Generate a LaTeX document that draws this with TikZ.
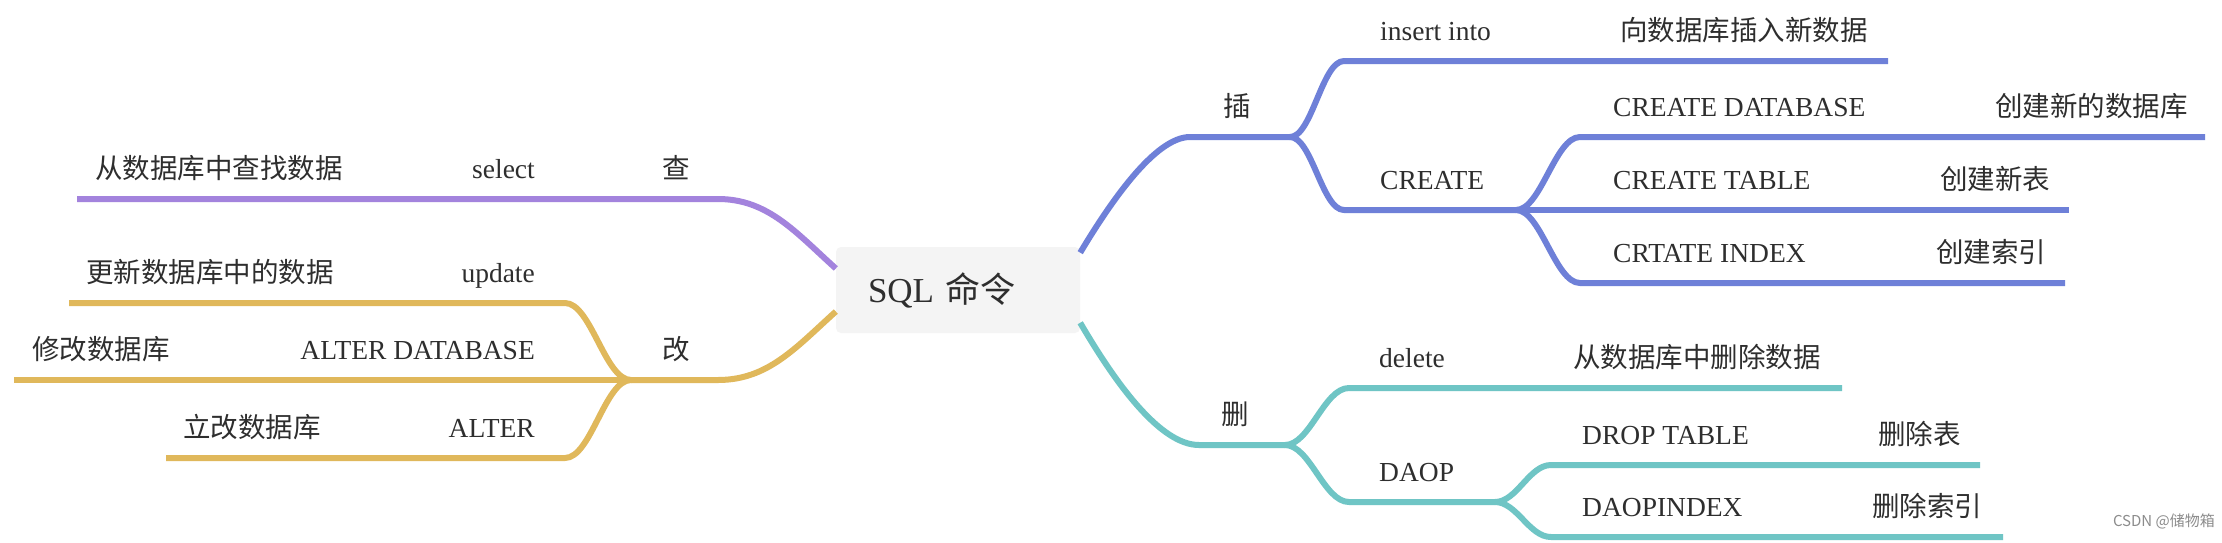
\documentclass[tikz,border=0pt]{standalone}
\usepackage{fontspec}
\usepackage{xcolor}
\setmainfont{Liberation Serif}
\newfontfamily\cjk{Noto Sans CJK SC}
\usetikzlibrary{positioning,calc}
\definecolor{txt}{HTML}{2E2E2E}
\definecolor{boxgray}{HTML}{F4F4F4}
\definecolor{qryline}{HTML}{A383DD}
\definecolor{modline}{HTML}{E0B85B}
\definecolor{insline}{HTML}{6E80D8}
\definecolor{delline}{HTML}{6FC5C5}

\begin{document}
\begin{tikzpicture}[x=1pt,y=-1pt]
  \tikzstyle{entext} = [font=\fontsize{27.5}{33}\selectfont, text=txt, inner sep=0pt]
  \tikzstyle{cntext} = [font=\cjk\fontsize{27.5}{33}\selectfont, text=txt, inner sep=0pt]
  \tikzstyle{branch} = [line width=6pt, line join=round]
  \tikzstyle{central} = [fill=boxgray, rounded corners=5pt, text width=180pt, align=left, inner xsep=32pt, inner ysep=0pt, minimum height=86pt, font=\fontsize{35}{40}\selectfont, text=txt]

  \fill [white] (0,0) rectangle (2222,542);
  \useasboundingbox (0,0) rectangle (2222,542);

  \node [central] (root) at (958,290) {SQL {\cjk 命令}};

  % left: query / modify
  \node [cntext, anchor=base] (qry) at (676,178) {查};
  \node [entext, anchor=base east] (select) at (535,178) {select};
  \node [cntext, anchor=base west] (selectdesc) at (95,178) {从数据库中查找数据};

  \node [cntext, anchor=base] (mod) at (676,359) {改};
  \node [entext, anchor=base east] (update) at (535,282) {update};
  \node [cntext, anchor=base west] (updatedesc) at (86,282) {更新数据库中的数据};
  \node [entext, anchor=base east] (alterdb) at (535,359) {ALTER DATABASE};
  \node [cntext, anchor=base west] (alterdbdesc) at (32,359) {修改数据库};
  \node [entext, anchor=base east] (alter) at (535,437) {ALTER};
  \node [cntext, anchor=base west] (alterdesc) at (183,437) {立改数据库};

  % right: insert / delete
  \node [cntext, anchor=base] (ins) at (1237,116) {插};
  \node [entext, anchor=base west] (into) at (1380,40) {insert into};
  \node [cntext, anchor=base west] (intodesc) at (1620,40) {向数据库插入新数据};
  \node [entext, anchor=base west] (create) at (1380,189) {CREATE};
  \node [entext, anchor=base west] (cdb) at (1613,116) {CREATE DATABASE};
  \node [cntext, anchor=base west] (cdbdesc) at (1995,116) {创建新的数据库};
  \node [entext, anchor=base west] (ctb) at (1613,189) {CREATE TABLE};
  \node [cntext, anchor=base west] (ctbdesc) at (1940,189) {创建新表};
  \node [entext, anchor=base west] (cix) at (1613,262) {CRTATE INDEX};
  \node [cntext, anchor=base west] (cixdesc) at (1936,262) {创建索引};

  \node [cntext, anchor=base] (del) at (1235,424) {删};
  \node [entext, anchor=base west] (delete) at (1379,367) {delete};
  \node [cntext, anchor=base west] (deletedesc) at (1573,367) {从数据库中删除数据};
  \node [entext, anchor=base west] (daop) at (1379,481) {DAOP};
  \node [entext, anchor=base west] (dtb) at (1582,444) {DROP TABLE};
  \node [cntext, anchor=base west] (dtbdesc) at (1878,444) {删除表};
  \node [entext, anchor=base west] (dix) at (1582,516) {DAOPINDEX};
  \node [cntext, anchor=base west] (dixdesc) at (1872,516) {删除索引};

  \node [font=\cjk\fontsize{15}{18}\selectfont, text=black!45, anchor=east, inner sep=0pt] (mark) at (2215,521) {CSDN @储物箱};

  % knees, junctions and ends of the lines
  \coordinate (qryK) at (718,199);
  \coordinate (qryE) at (77,199);
  \coordinate (modK) at (718,380);
  \coordinate (modJ) at (631,380);
  \coordinate (alterdbE) at (14,380);
  \coordinate (updateK) at (565,303);
  \coordinate (updateE) at (69,303);
  \coordinate (alterK) at (565,458);
  \coordinate (alterE) at (166,458);

  \coordinate (insK) at (1190,137);
  \coordinate (insJ) at (1290,137);
  \coordinate (intoK) at (1344,61);
  \coordinate (intoE) at (1888,61);
  \coordinate (createK) at (1344,210);
  \coordinate (createJ) at (1516,210);
  \coordinate (cdbK) at (1580,137);
  \coordinate (cdbE) at (2205,137);
  \coordinate (ctbE) at (2069,210);
  \coordinate (cixK) at (1580,283);
  \coordinate (cixE) at (2065,283);

  \coordinate (delK) at (1199,445);
  \coordinate (delJ) at (1285,445);
  \coordinate (deleteK) at (1349,388);
  \coordinate (deleteE) at (1842,388);
  \coordinate (daopK) at (1349,502);
  \coordinate (daopJ) at (1495,502);
  \coordinate (dtbK) at (1551,465);
  \coordinate (dtbE) at (1980,465);
  \coordinate (dixK) at (1551,537);
  \coordinate (dixE) at (2003,537);

  \draw [branch, qryline] (root.170) .. controls +(-40,-36) and +(50,0) .. (qryK) -- (qryE);

  \draw [branch, modline] (root.190) .. controls +(-40,36) and +(50,0) .. (modK) -- (modJ);
  \draw [branch, modline] (modJ) -- (alterdbE);
  \draw [branch, modline] (modJ) .. controls +(-26,0) and +(26,0) .. (updateK) -- (updateE);
  \draw [branch, modline] (modJ) .. controls +(-26,0) and +(26,0) .. (alterK) -- (alterE);

  \draw [branch, insline] (root.17) .. controls +(30,-50) and +(-35,0) .. (insK) -- (insJ);
  \draw [branch, insline] (insJ) .. controls +(22,0) and +(-22,0) .. (intoK) -- (intoE);
  \draw [branch, insline] (insJ) .. controls +(22,0) and +(-22,0) .. (createK) -- (createJ);
  \draw [branch, insline] (createJ) .. controls +(25,0) and +(-25,0) .. (cdbK) -- (cdbE);
  \draw [branch, insline] (createJ) -- (ctbE);
  \draw [branch, insline] (createJ) .. controls +(25,0) and +(-25,0) .. (cixK) -- (cixE);

  \draw [branch, delline] (root.345) .. controls +(35,60) and +(-39,0) .. (delK) -- (delJ);
  \draw [branch, delline] (delJ) .. controls +(25,0) and +(-25,0) .. (deleteK) -- (deleteE);
  \draw [branch, delline] (delJ) .. controls +(25,0) and +(-25,0) .. (daopK) -- (daopJ);
  \draw [branch, delline] (daopJ) .. controls +(22,0) and +(-22,0) .. (dtbK) -- (dtbE);
  \draw [branch, delline] (daopJ) .. controls +(22,0) and +(-22,0) .. (dixK) -- (dixE);
\end{tikzpicture}
\end{document}
